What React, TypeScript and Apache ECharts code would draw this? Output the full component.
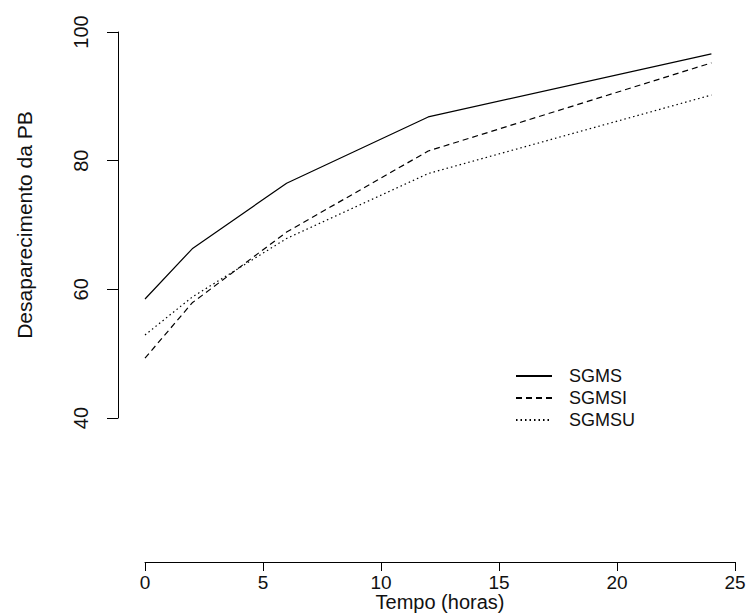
import React, { useEffect, useRef } from "react";
import * as echarts from "echarts";

const times = [0, 2, 6, 12, 24];
const seriesNames = ["SGMS", "SGMSI", "SGMSU"];
const sgms = [58.5, 66.3, 76.5, 86.8, 96.6];
const sgmsi = [49.3, 57.9, 68.9, 81.5, 95.2];
const sgmsu = [52.9, 58.8, 67.9, 78.0, 90.2];
const xTicks = [0, 5, 10, 15, 20, 25];
const yTicks = [40, 60, 80, 100];

const FONT = "'Liberation Sans', Arial, sans-serif";

const X0 = 145;
const YAXIS_X = 118;
const RIGHT = 15;
const TOP = 32;
const BOTTOM = 196;

export default function App() {
  const ref = useRef<HTMLDivElement>(null);
  useEffect(() => {
    if (!ref.current) return;
    const chart = echarts.init(ref.current, null, { renderer: "svg" });
    const pairs = (vals: number[]) => times.map((t, i) => [t, vals[i]]);
    const dashes: any[] = ["solid", [6, 4], [1.5, 3]];
    const allVals = [sgms, sgmsi, sgmsu];
    const xMax = xTicks[xTicks.length - 1];
    const pxPerUnit = (750 - RIGHT - X0) / (xMax - xTicks[0]);
    const hiddenMin = xTicks[0] - (X0 - YAXIS_X) / pxPerUnit;
    chart.setOption({
      animation: false,
      backgroundColor: "#ffffff",
      textStyle: { fontFamily: FONT },
      grid: [
        { left: YAXIS_X, right: RIGHT, top: TOP, bottom: BOTTOM, outerBoundsMode: "none", containLabel: false },
        { left: X0, right: RIGHT, top: TOP, bottom: BOTTOM, outerBoundsMode: "none", containLabel: false },
      ],
      legend: {
        data: seriesNames,
        orient: "vertical",
        left: 515,
        top: 367,
        itemWidth: 36,
        itemHeight: 14,
        itemGap: 4,
        padding: 0,
        itemStyle: { color: "rgba(0,0,0,0)", borderWidth: 0, opacity: 0 },
        textStyle: { fontSize: 18, color: "#111", fontFamily: FONT, padding: [0, 0, 0, 12] },
      },
      xAxis: [
        {
          gridIndex: 0,
          type: "value",
          min: hiddenMin,
          max: xMax,
          show: false,
          axisLine: { show: false, onZero: false },
          splitLine: { show: false },
        },
        {
          gridIndex: 1,
          type: "value",
          min: xTicks[0],
          max: xMax,
          interval: 5,
          offset: 144,
          name: "Tempo (horas)",
          nameLocation: "middle",
          nameGap: 30,
          nameMoveOverlap: false,
          nameTextStyle: { fontSize: 20, color: "#111", fontFamily: FONT },
          axisLine: { show: true, onZero: false, lineStyle: { color: "#000", width: 1 } },
          axisTick: { show: true, length: 9, lineStyle: { color: "#000" } },
          axisLabel: { fontSize: 19, color: "#111", margin: 11, fontFamily: FONT },
          splitLine: { show: false },
        },
      ],
      yAxis: [
        {
          gridIndex: 0,
          type: "value",
          position: "left",
          min: yTicks[0],
          max: yTicks[yTicks.length - 1],
          interval: 20,
          name: "Desaparecimento da PB",
          nameLocation: "middle",
          nameGap: 83,
          nameMoveOverlap: false,
          nameTextStyle: { fontSize: 21, color: "#111", fontFamily: FONT },
          axisLine: { show: true, onZero: false, lineStyle: { color: "#000", width: 1 } },
          axisTick: { show: true, length: 11, lineStyle: { color: "#000" } },
          axisLabel: { fontSize: 20, color: "#111", margin: 27, rotate: 90, fontFamily: FONT },
          splitLine: { show: false },
        },
        {
          gridIndex: 1,
          type: "value",
          min: yTicks[0],
          max: yTicks[yTicks.length - 1],
          show: false,
          axisLine: { show: false, onZero: false },
          splitLine: { show: false },
        },
      ],
      series: seriesNames.map((name, i) => ({
        name,
        type: "line",
        xAxisIndex: 0,
        yAxisIndex: 0,
        data: pairs(allVals[i]),
        symbol: "none",
        showSymbol: false,
        lineStyle: { color: "#000", width: 1.2, type: dashes[i] },
        itemStyle: { color: "#000" },
      })),
    });
    return () => chart.dispose();
  }, []);
  return (
    <div
      ref={ref}
      style={{ position: "fixed", left: 0, top: 0, width: 750, height: 614, background: "#fff" }}
    />
  );
}
